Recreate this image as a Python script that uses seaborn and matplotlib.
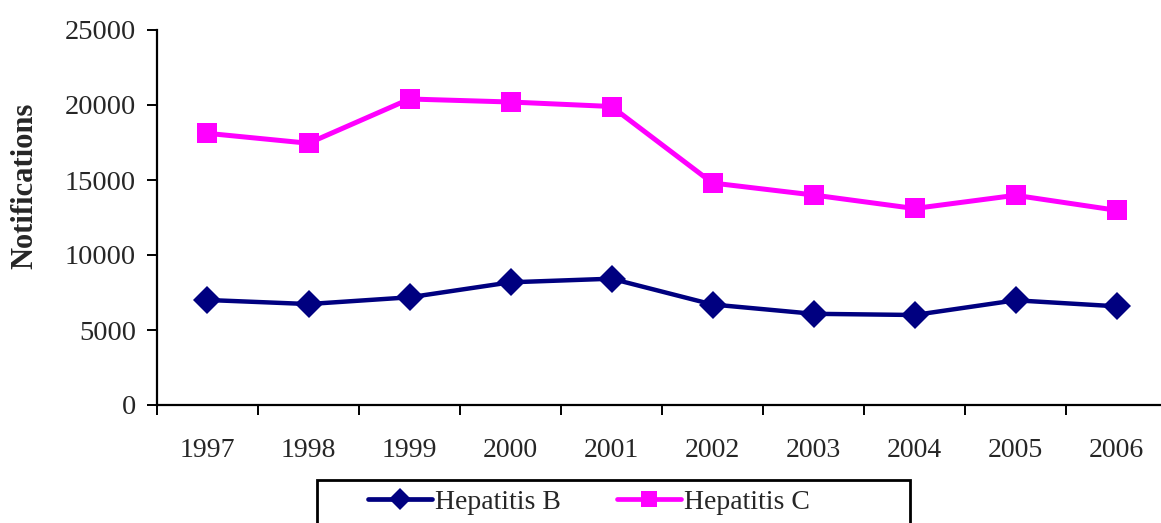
import matplotlib
matplotlib.use("Agg")
import matplotlib.pyplot as plt
from matplotlib.patches import Rectangle
from matplotlib.ticker import FixedLocator
import seaborn as sns
import pandas as pd

# Annual notifications of viral hepatitis
years = ["1997", "1998", "1999", "2000", "2001", "2002", "2003", "2004", "2005", "2006"]
hep_b = [7000, 6730, 7180, 8180, 8420, 6700, 6080, 6000, 6980, 6580]
hep_c = [18110, 17450, 20400, 20200, 19900, 14800, 14000, 13100, 13980, 12980]
series_names = ["Hepatitis B", "Hepatitis C"]
y_ticks = [0, 5000, 10000, 15000, 20000, 25000]

df = pd.DataFrame({
    "Year": years * 2,
    "Notifications": hep_b + hep_c,
    "Series": [series_names[0]] * len(years) + [series_names[1]] * len(years),
})

sns.set_theme(style="white")
plt.rcParams["font.family"] = ["Liberation Serif", "DejaVu Serif"]

W, H = 1161, 523
fig = plt.figure(figsize=(W / 100, H / 100), dpi=100)
ax = fig.add_axes([157 / W, 1 - 405 / H, 1010 / W, 375 / H])

palette = {"Hepatitis B": "#000080", "Hepatitis C": "#FF00FF"}
markers = {"Hepatitis B": "D", "Hepatitis C": "s"}
widths = {"Hepatitis B": 3.2, "Hepatitis C": 3.6}
sns.lineplot(data=df, x="Year", y="Notifications", hue="Series", style="Series",
             palette=palette, markers=markers, dashes=False, sort=False,
             markersize=14, markeredgewidth=0, ax=ax, legend=False)
for line, name in zip(ax.get_lines(), series_names):
    line.set_linewidth(widths[name])

ax.set_xlim(-0.5, len(years) - 0.5)
ax.set_ylim(0, 25000)
ax.set_yticks(y_ticks)
ax.set_yticklabels([str(v) for v in y_ticks], fontsize=20.5)
ax.set_xticks(range(len(years)))
ax.set_xticklabels(years, fontsize=20)
ax.xaxis.set_minor_locator(FixedLocator([i - 0.5 for i in range(len(years) + 1)]))
ax.tick_params(axis="x", which="major", length=0, pad=24)
ax.tick_params(axis="x", which="minor", direction="out", length=7, width=1.4,
               color="black", bottom=True)
ax.tick_params(axis="y", which="major", direction="out", length=7, width=1.4,
               color="black", left=True, pad=8)
ax.set_xlabel("")
ax.set_ylabel("Notifications", fontsize=22, fontweight="bold")
ax.yaxis.set_label_coords(-0.116, 0.584)

for side in ("top", "right"):
    ax.spines[side].set_visible(False)
for side in ("left", "bottom"):
    ax.spines[side].set_color("black")
    ax.spines[side].set_linewidth(1.6)
ax.grid(False)

# Legend frame running off the bottom edge of the figure
fig.patches.append(Rectangle((317 / W, -0.05), (910 - 317) / W, 0.05 + 1 - 480 / H,
                             transform=fig.transFigure, fill=False,
                             edgecolor="black", linewidth=2.0))

handles = [
    plt.Line2D([], [], color=palette[n], marker=markers[n], markersize=11,
               markeredgewidth=0, linewidth=3.4)
    for n in series_names
]
leg = fig.legend(handles, series_names, loc="center left",
                 bbox_to_anchor=(368 / W, 1 - 502 / H), ncol=2, fontsize=20,
                 frameon=False, handlelength=2.3, handletextpad=0.12,
                 columnspacing=2.0, borderpad=0, borderaxespad=0)

fig.savefig("out.png", dpi=100)
